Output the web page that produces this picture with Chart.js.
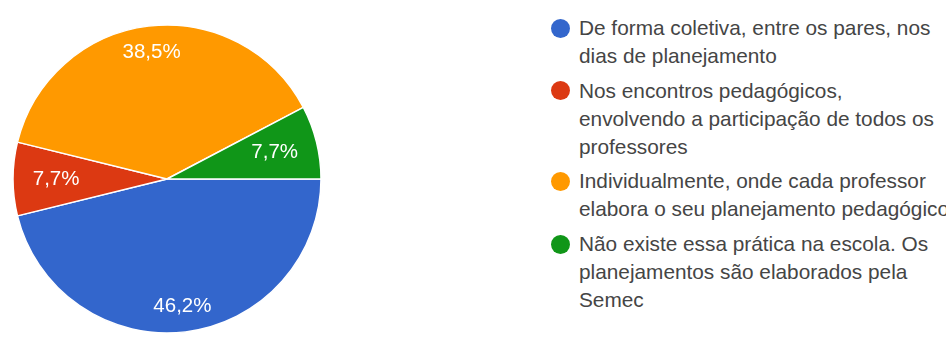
<!DOCTYPE html>
<html lang="pt">
<head>
<meta charset="utf-8">
<script src="https://cdn.jsdelivr.net/npm/chart.js@4.4.1/dist/chart.umd.min.js"></script>
<style>
  html, body { margin: 0; padding: 0; background: #ffffff; overflow: hidden; }
  body { width: 946px; height: 342px; position: relative; }
  #pie { position: absolute; left: 0; top: 0; }
  #legend {
    position: absolute; left: 548px; top: 14px;
    font-family: "Liberation Sans", Arial, sans-serif;
    font-size: 20.8px; line-height: 28px; color: #454545;
    white-space: nowrap;
  }
  .item { position: relative; padding-left: 31px; margin-bottom: 6.7px; }
  .dot {
    position: absolute; left: 2.5px; top: 4.5px;
    width: 19px; height: 19px; border-radius: 50%;
  }
</style>
</head>
<body>
<canvas id="pie" width="334" height="342"></canvas>
<div id="legend"></div>
<script>
// Answer categories (each entry is one legend item, split into its display lines)
const categories = [
  ["De forma coletiva, entre os pares, nos", "dias de planejamento"],
  ["Nos encontros pedagógicos,", "envolvendo a participação de todos os", "professores"],
  ["Individualmente, onde cada professor", "elabora o seu planejamento pedagógico"],
  ["Não existe essa prática na escola. Os", "planejamentos são elaborados pela", "Semec"]
];
// Share of responses, in percent
const percentages = [46.2, 7.7, 38.5, 7.7];
// Text shown on each slice
const sliceLabels = ["46,2%", "7,7%", "38,5%", "7,7%"];

const colors = ["#3366cc", "#dc3912", "#ff9900", "#109618"];
const FONT = '"Liberation Sans", Arial, sans-serif';

// Percentage text inside each slice
const sliceText = {
  id: "sliceText",
  afterDatasetsDraw(chart) {
    const ctx = chart.ctx;
    const meta = chart.getDatasetMeta(0);
    ctx.save();
    ctx.font = "20.5px " + FONT;
    ctx.fillStyle = "#ffffff";
    ctx.textAlign = "center";
    ctx.textBaseline = "middle";
    meta.data.forEach((arc, i) => {
      const p = arc.getProps(["x", "y", "startAngle", "endAngle", "outerRadius"], true);
      const mid = (p.startAngle + p.endAngle) / 2;
      const span = p.endAngle - p.startAngle;
      const frac = span < 0.7 ? 0.72 : 0.83;
      const r = p.outerRadius * frac;
      ctx.fillText(sliceLabels[i], p.x + Math.cos(mid) * r, p.y + Math.sin(mid) * r);
    });
    ctx.restore();
  }
};

new Chart(document.getElementById("pie"), {
  type: "pie",
  data: {
    labels: categories,
    datasets: [{
      data: percentages,
      backgroundColor: colors,
      borderColor: "#ffffff",
      borderWidth: 1.5
    }]
  },
  options: {
    responsive: false,
    animation: false,
    rotation: 90,
    radius: 154,
    layout: { padding: { top: 16 } },
    plugins: {
      legend: { display: false },
      tooltip: { enabled: false }
    }
  },
  plugins: [sliceText]
});

// Legend beside the pie
const legend = document.getElementById("legend");
categories.forEach((lines, i) => {
  const item = document.createElement("div");
  item.className = "item";
  const dot = document.createElement("span");
  dot.className = "dot";
  dot.style.background = colors[i];
  item.appendChild(dot);
  lines.forEach(line => {
    const row = document.createElement("div");
    row.textContent = line;
    item.appendChild(row);
  });
  legend.appendChild(item);
});
</script>
</body>
</html>
